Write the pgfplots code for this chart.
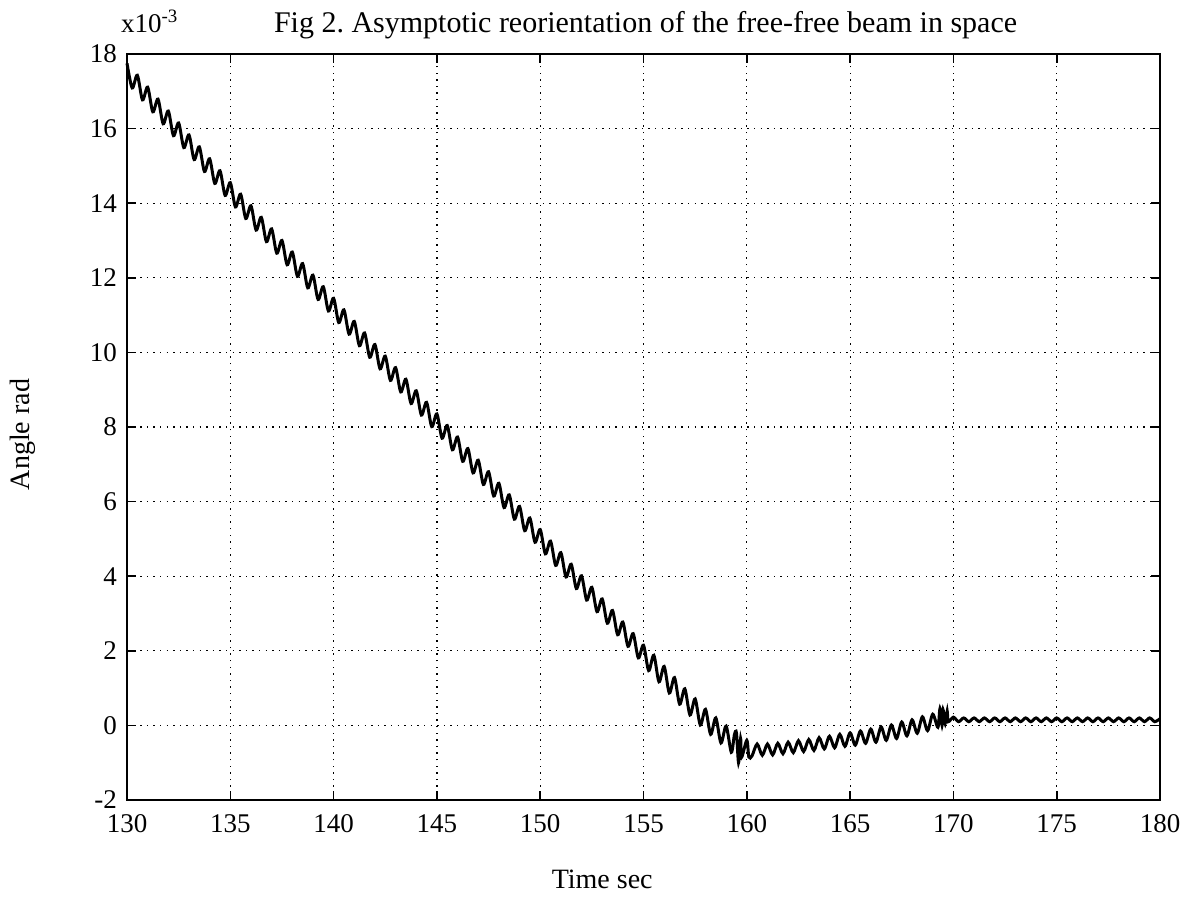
\documentclass[border=0pt]{standalone}
\usepackage{fontspec}
\setmainfont{Liberation Serif}
\usepackage{pgfplots}
\pgfplotsset{compat=1.18}
\begin{document}
\begin{tikzpicture}
\begin{axis}[
    scale only axis,
    width=516.5bp, height=373bp,
    xmin=130, xmax=180,
    ymin=-2, ymax=18,
    xtick={130,135,...,180},
    ytick={-2,0,...,18},
    tick align=inside,
    tick pos=both,
    major tick length=4.5bp,
    grid=major,
    grid style={black, line width=0.6bp, dash pattern=on 0.7bp off 2.6bp},
    axis line style={line width=1.2bp},
    every tick/.style={black, line width=0.8bp},
    /pgf/number format/assume math mode=true,
    ticklabel style={font=\fontsize{13.5bp}{16bp}\selectfont},
    xticklabel style={yshift=-4bp},
    yticklabel style={xshift=-1.5bp},
    xlabel={Time sec},
    ylabel={Angle rad},
    xlabel style={at={(rel axis cs:0.46,-0.107)}, anchor=center, font=\fontsize{14bp}{16bp}\selectfont},
    ylabel style={at={(rel axis cs:-0.1007,0.49)}, anchor=center, font=\fontsize{14bp}{16bp}\selectfont},
    clip=false,
]
\addplot[black, line width=1.5bp, smooth, tension=0.5] coordinates {
(130,17.75) (130.25,17.09) (130.5,17.43) (130.75,16.77) (131,17.11) (131.25,16.45)
(131.5,16.79) (131.75,16.13) (132,16.47) (132.25,15.81) (132.5,16.15) (132.75,15.49)
(133,15.83) (133.25,15.17) (133.5,15.51) (133.75,14.85) (134,15.19) (134.25,14.53)
(134.5,14.87) (134.75,14.21) (135,14.55) (135.25,13.90) (135.5,14.24) (135.75,13.59)
(136,13.93) (136.25,13.28) (136.5,13.62) (136.75,12.97) (137,13.31) (137.25,12.66)
(137.5,13.00) (137.75,12.35) (138,12.69) (138.25,12.04) (138.5,12.38) (138.75,11.73)
(139,12.07) (139.25,11.42) (139.5,11.76) (139.75,11.11) (140,11.45) (140.25,10.80)
(140.5,11.14) (140.75,10.49) (141,10.83) (141.25,10.18) (141.5,10.52) (141.75,9.87)
(142,10.21) (142.25,9.56) (142.5,9.90) (142.75,9.25) (143,9.59) (143.25,8.94)
(143.5,9.28) (143.75,8.63) (144,8.97) (144.25,8.32) (144.5,8.66) (144.75,8.01)
(145,8.35) (145.25,7.70) (145.5,8.04) (145.75,7.39) (146,7.73) (146.25,7.08)
(146.5,7.42) (146.75,6.77) (147,7.11) (147.25,6.46) (147.5,6.80) (147.75,6.15)
(148,6.49) (148.25,5.84) (148.5,6.18) (148.75,5.53) (149,5.87) (149.25,5.22)
(149.5,5.56) (149.75,4.91) (150,5.25) (150.25,4.60) (150.5,4.94) (150.75,4.29)
(151,4.63) (151.25,3.98) (151.5,4.32) (151.75,3.67) (152,4.01) (152.25,3.36)
(152.5,3.70) (152.75,3.05) (153,3.39) (153.25,2.74) (153.5,3.08) (153.75,2.43)
(154,2.77) (154.25,2.12) (154.5,2.46) (154.75,1.81) (155,2.15) (155.25,1.47)
(155.5,1.88) (155.75,1.17) (156,1.58) (156.25,0.87) (156.5,1.28) (156.75,0.57)
(157,0.98) (157.25,0.28) (157.5,0.71) (157.75,0.01) (158,0.43) (158.25,-0.24)
(158.5,0.20) (158.75,-0.47) (159,-0.02) (159.25,-0.72) (159.4,-0.25) (159.5,-0.20)
(159.6,-1.00) (159.7,-0.35) (159.75,-0.85) (160,-0.40) (160.1,-0.85) (160.25,-0.82)
(160.5,-0.50) (160.75,-0.80) (161,-0.50) (161.25,-0.79) (161.5,-0.48) (161.75,-0.76)
(162,-0.45) (162.25,-0.73) (162.5,-0.41) (162.75,-0.70) (163,-0.38) (163.25,-0.67)
(163.5,-0.33) (163.75,-0.63) (164,-0.29) (164.25,-0.60) (164.5,-0.24) (164.75,-0.56)
(165,-0.20) (165.25,-0.53) (165.5,-0.15) (165.75,-0.48) (166,-0.10) (166.25,-0.45)
(166.5,-0.04) (166.75,-0.40) (167,0.01) (167.25,-0.35) (167.5,0.09) (167.75,-0.28)
(168,0.15) (168.25,-0.21) (168.5,0.23) (168.75,-0.14) (169,0.30) (169.25,-0.05)
(169.35,0.45) (169.45,0.00) (169.5,0.42) (169.6,0.05) (169.7,0.38) (169.75,0.10)
(170,0.22) (170.25,0.10) (170.5,0.20) (170.75,0.10) (171,0.20) (171.25,0.10)
(171.5,0.20) (171.75,0.10) (172,0.20) (172.25,0.10) (172.5,0.20) (172.75,0.10)
(173,0.20) (173.25,0.10) (173.5,0.20) (173.75,0.10) (174,0.20) (174.25,0.10)
(174.5,0.20) (174.75,0.10) (175,0.20) (175.25,0.10) (175.5,0.20) (175.75,0.10)
(176,0.20) (176.25,0.10) (176.5,0.20) (176.75,0.10) (177,0.20) (177.25,0.10)
(177.5,0.20) (177.75,0.10) (178,0.20) (178.25,0.10) (178.5,0.20) (178.75,0.10)
(179,0.20) (179.25,0.10) (179.5,0.20) (179.75,0.10) (180,0.18)
};
\node[anchor=base west, yshift=10.5bp, font=\fontsize{15bp}{17bp}\selectfont]
    at (rel axis cs:0.1355,1) {Fig 2.\ Asymptotic reorientation of the free-free beam in space};
\node[anchor=base west, yshift=10.5bp, inner sep=0pt, font=\fontsize{13.5bp}{16bp}\selectfont]
    at (rel axis cs:-0.006,1) {x10\textsuperscript{-3}};
\coordinate (bl) at (rel axis cs:0,0);
\coordinate (tr) at (rel axis cs:1,1);
\end{axis}
\pgfresetboundingbox
\path[use as bounding box] ([xshift=-63.5bp,yshift=-55bp]bl) rectangle ([xshift=18bp,yshift=27bp]tr);
\end{tikzpicture}
\end{document}
